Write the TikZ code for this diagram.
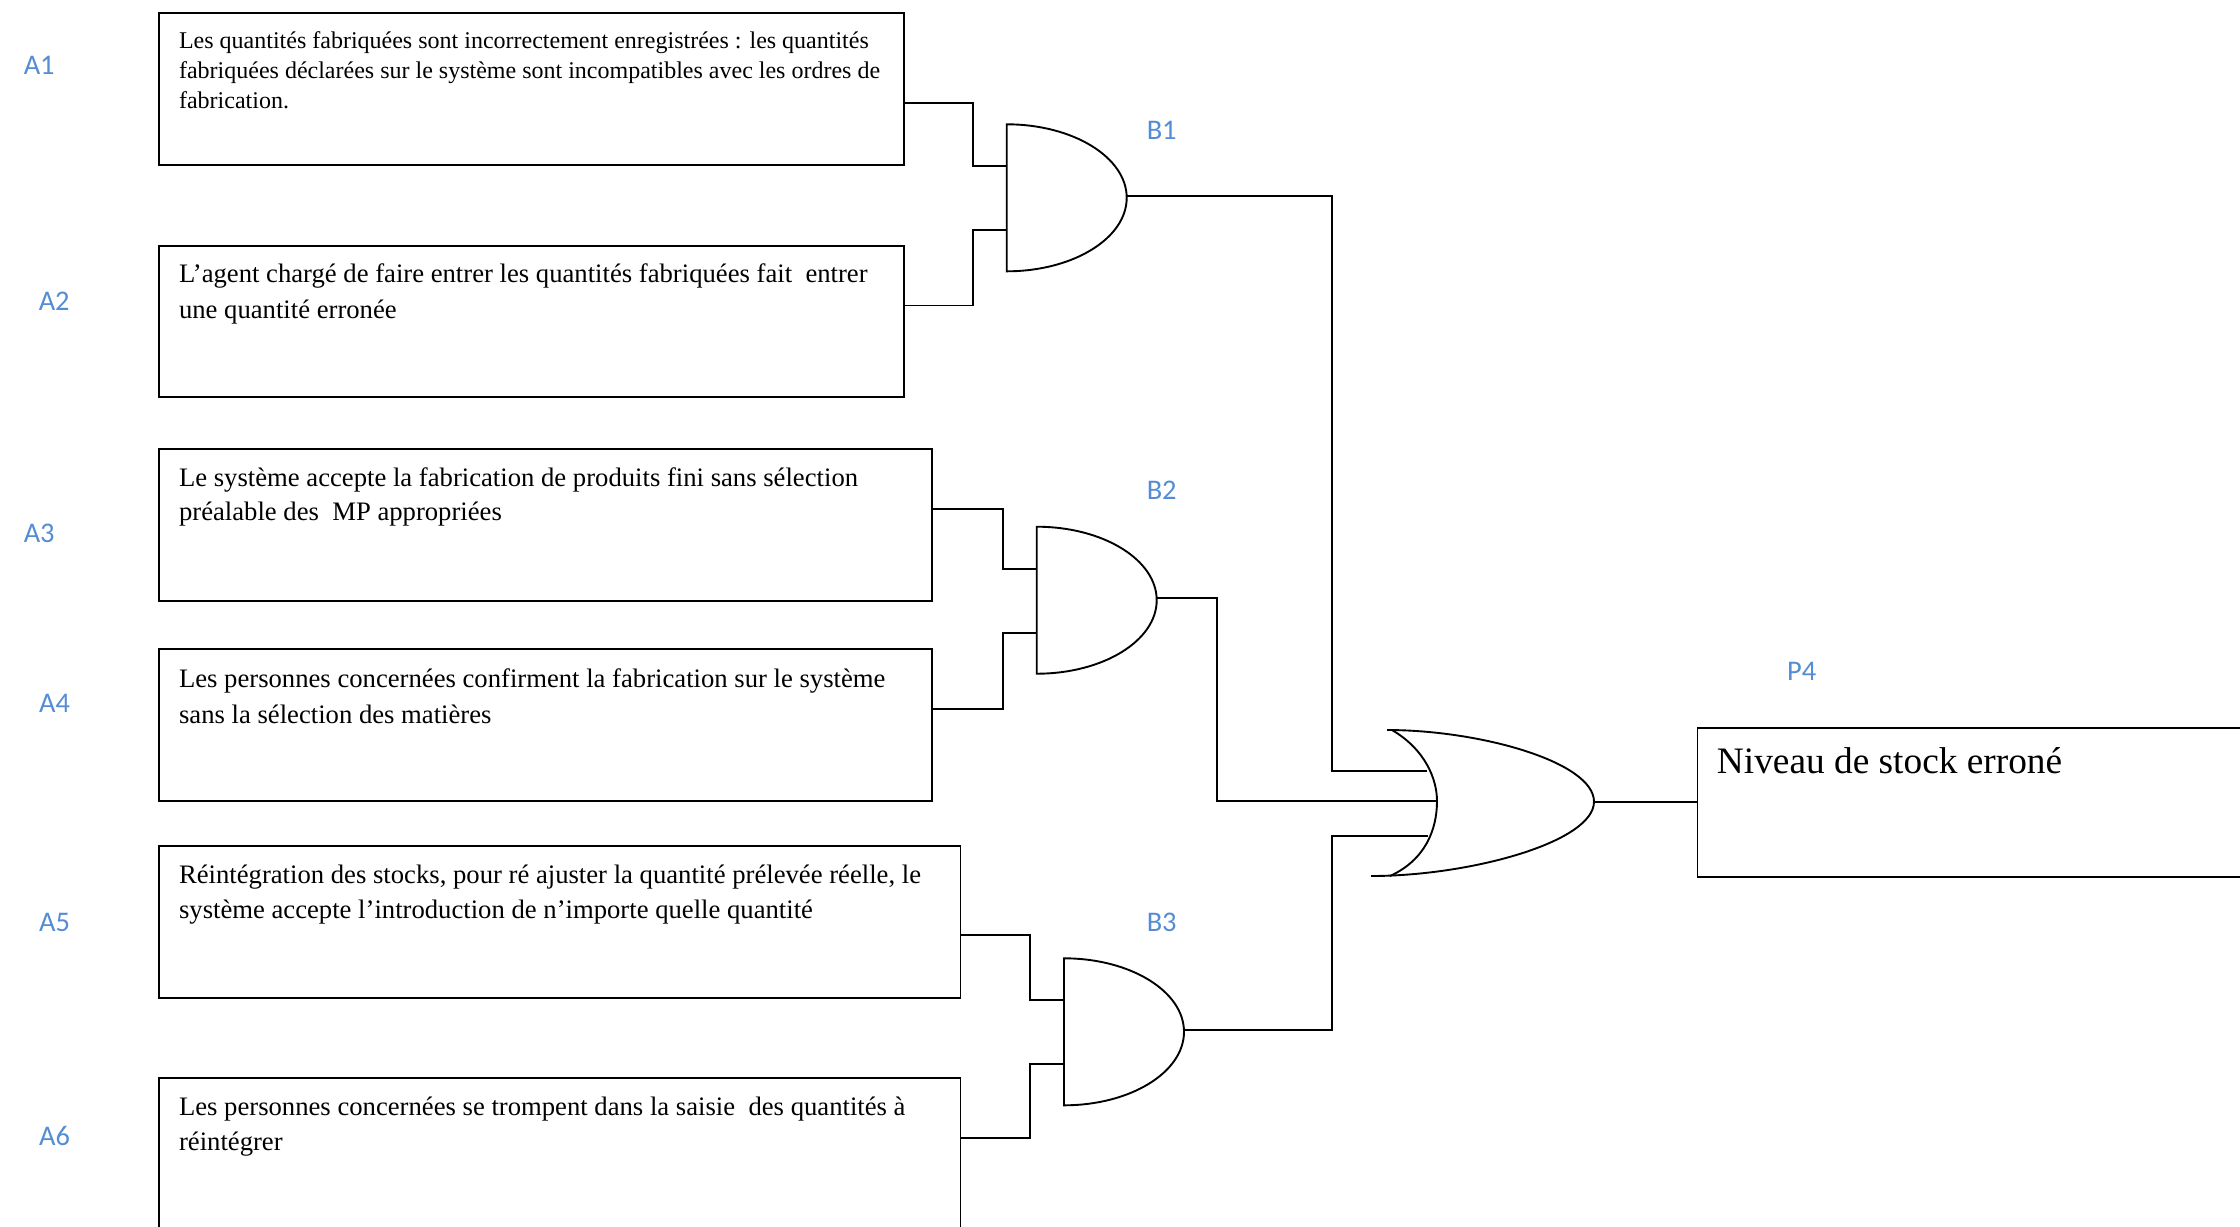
\documentclass[tikz,border=0pt]{standalone}
\usepackage{fontspec}
\setmainfont{Liberation Serif}
\newfontfamily\labelfont{Carlito}
\usetikzlibrary{calc,fit}
\definecolor{tagblue}{RGB}{84,141,212}
\tikzset{
  wire/.style={line width=0.85pt, line join=miter},
  box/.style={draw, line width=0.85pt, inner sep=0pt},
  txt/.style={anchor=north west, inner sep=0pt, align=left},
  tag/.style={text=tagblue, font=\labelfont\fontsize{12.8}{14}\selectfont, inner sep=0pt},
  andgate/.pic={
    \draw[wire] (0,0) .. controls (66.3,0) and (120,33) .. (120,73.5)
       .. controls (120,114) and (66.3,147) .. (0,147) -- cycle;
    \coordinate (-in1) at (0,42);
    \coordinate (-in2) at (0,106);
    \coordinate (-out) at (120,71.5);
  }
}

\begin{document}
\begin{tikzpicture}[x=0.45pt,y=-0.45pt]
\useasboundingbox (0,0) rectangle (2240,1226);
\clip (0,0) rectangle (2240,1226);
\fill[white] (0,0) rectangle (2240,1226);

% event boxes
\node[box, fit={(159.4,13.3) (903.7,164.7)}] (a1) {};
\node[box, fit={(159.4,245.7) (903.7,396.7)}] (a2) {};
\node[box, fit={(159.4,449) (932.4,600.7)}] (a3) {};
\node[box, fit={(159.4,649.3) (932.4,800.7)}] (a4) {};
\node[box, fit={(159.4,846) (960.5,997.7)}] (a5) {};
\node[box, fit={(159.4,1077.7) (960.5,1240)}] (a6) {};
\node[box, fit={(1697.5,727.7) (2260,876.7)}] (p4) {};

% box texts
\node[txt, font=\fontsize{10.8}{13.5}\selectfont] (a1t) at (178.6,25.8)
  {\rule{0pt}{10pt}Les quantités fabriquées sont incorrectement enregistrées : les quantités\\fabriquées déclarées sur le système sont incompatibles avec les ordres de\\fabrication.};
\node[txt, font=\fontsize{12}{16.2}\selectfont] (a2t) at (178.6,259.8)
  {\rule{0pt}{10pt}L’agent chargé de faire entrer les quantités fabriquées fait\ \ entrer\\une quantité erronée};
\node[txt, font=\fontsize{12}{15.5}\selectfont] (a3t) at (178.6,463.8)
  {\rule{0pt}{10pt}Le système accepte la fabrication de produits fini sans sélection\\préalable des\ \ MP appropriées};
\node[txt, font=\fontsize{12}{16.4}\selectfont] (a4t) at (178.6,664.8)
  {\rule{0pt}{10pt}Les personnes concernées confirment la fabrication sur le système\\sans la sélection des matières};
\node[txt, font=\fontsize{12}{15.75}\selectfont] (a5t) at (178.6,860.8)
  {\rule{0pt}{10pt}Réintégration des stocks, pour ré ajuster la quantité prélevée réelle, le\\système accepte l’introduction de n’importe quelle quantité};
\node[txt, font=\fontsize{12}{15.75}\selectfont] (a6t) at (178.6,1092.8)
  {\rule{0pt}{10pt}Les personnes concernées se trompent dans la saisie\ \ des quantités à\\réintégrer};
\node[anchor=base west, inner sep=0pt, font=\fontsize{16.8}{20}\selectfont] (p4t) at (1716.5,773.3)
  {Niveau de stock erroné};

% labels
\node[tag] (la1) at (39.2,65.8) {A1};
\node[tag] (la2) at (54.2,300.8) {A2};
\node[tag] (la3) at (39.2,533) {A3};
\node[tag] (la4) at (54.6,703.7) {A4};
\node[tag] (la5) at (54.6,922.5) {A5};
\node[tag] (la6) at (54.6,1135.5) {A6};
\node[tag] (lb1) at (1161.7,130) {B1};
\node[tag] (lb2) at (1161.7,490) {B2};
\node[tag] (lb3) at (1161.7,922) {B3};
\node[tag] (lp4) at (1801.6,671.8) {P4};

% AND gates
\pic (b1) at (1006.7,124.3) {andgate};
\pic (b2) at (1036.7,526.7) {andgate};
\pic (b3) at (1064,958.3) {andgate};

% OR gate
\draw[wire] (1387,730) .. controls (1480,730) and (1594,762) .. (1594,801.7)
  .. controls (1594,842) and (1470,876) .. (1371,876);
\draw[wire] (1392,730) .. controls (1426,750) and (1437,780) .. (1437,801)
  .. controls (1437,830) and (1425,860) .. (1390,876);
\coordinate (or-in1) at (1427,771);
\coordinate (or-in2) at (1437,801);
\coordinate (or-in3) at (1428,835.7);
\coordinate (or-out) at (1594,801.7);

% wiring of the inputs
\draw[wire] (a1.east |- 0,102.7) -| ($(b1-in1)+(-34,0)$) -- (b1-in1);
\draw[wire] (a2.east |- 0,305.5) -| ($(b1-in2)+(-34,0)$) -- (b1-in2);
\draw[wire] (a3.east |- 0,509) -| ($(b2-in1)+(-34,0)$) -- (b2-in1);
\draw[wire] (a4.east |- 0,708.7) -| ($(b2-in2)+(-34,0)$) -- (b2-in2);
\draw[wire] (a5.east |- 0,935.3) -| ($(b3-in1)+(-34,0)$) -- (b3-in1);
\draw[wire] (a6.east |- 0,1137.8) -| ($(b3-in2)+(-34,0)$) -- (b3-in2);

% wiring of the gate outputs
\draw[wire] (b1-out) -| ($(or-in1)+(-95,0)$) -- (or-in1);
\draw[wire] (b2-out) -| ($(or-in2)+(-220,0)$) -- (or-in2);
\draw[wire] (b3-out) -| ($(or-in3)+(-96,0)$) -- (or-in3);
\draw[wire] (or-out) -- (or-out -| p4.west);
\end{tikzpicture}
\end{document}
